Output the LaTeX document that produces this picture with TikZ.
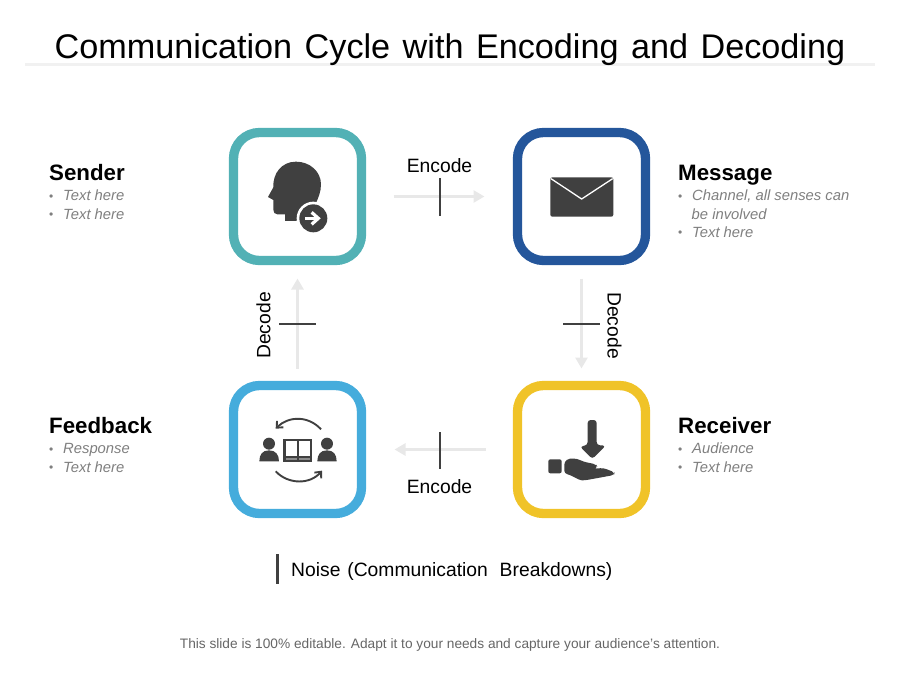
\documentclass[tikz,border=0pt]{standalone}
\usepackage{fontspec}
\setmainfont{Liberation Sans}
\usetikzlibrary{arrows.meta}
\definecolor{iconc}{HTML}{404040}
\definecolor{cteal}{HTML}{52B1B5}
\definecolor{cblue}{HTML}{24569B}
\definecolor{csky}{HTML}{45ACDC}
\definecolor{cyel}{HTML}{F0C328}
\definecolor{flowc}{HTML}{E8E8E8}
\definecolor{subc}{HTML}{7F7F7F}
\tikzset{
  box/.style={draw,fill=white,line width=9.3pt,rounded corners=26pt,minimum size=128pt,inner sep=0pt,outer sep=0pt},
  flow/.style={draw=flowc,line width=3.4pt,-{Triangle[length=11pt,width=12pt]}},
  tick/.style={draw=iconc,line width=2.6pt},
  head/.style={anchor=base west,inner sep=0pt,font=\fontsize{22.3}{25}\selectfont\bfseries},
  sub/.style={anchor=base west,inner sep=0pt,text=subc,font=\fontsize{14.8}{17}\selectfont\itshape},
  dot/.style={anchor=base west,inner sep=0pt,text=subc,font=\fontsize{12}{14}\selectfont},
  lab/.style={inner sep=0pt,font=\fontsize{19.3}{22}\selectfont},
  zoomA/.style={x=0.3333pt,y=-0.3333pt}
}
\begin{document}
\begin{tikzpicture}[x=1pt,y=-1pt]
\useasboundingbox (0,0) rectangle (900,675);
% title
\coordinate (ruleL) at (25,64.5); \coordinate (ruleR) at (875,64.5);
\draw[draw=flowc!60,line width=2.5pt] (ruleL) -- (ruleR);
\node[anchor=base,inner sep=0pt,font=\fontsize{34.2}{40}\selectfont] (title) at (450,58) {Communication\hspace{3pt} Cycle\hspace{3pt} with\hspace{3pt} Encoding\hspace{3pt} and\hspace{3pt} Decoding};
% boxes
\node[box,draw=cteal] (sender) at (297.5,196.5) {};
\node[box,draw=cblue] (message) at (581.5,196.5) {};
\node[box,draw=csky] (feedback) at (297.5,449.5) {};
\node[box,draw=cyel] (receiver) at (581.5,449.5) {};
% flows
\draw[flow,shorten <=32pt,shorten >=33pt] (sender.east) -- (message.west);
\draw[flow,shorten <=18pt,shorten >=17pt] (message.south) -- (receiver.north);
\draw[flow,shorten <=32pt,shorten >=33pt] (receiver.west) -- (feedback.east);
\draw[flow,shorten <=17pt,shorten >=18pt] (feedback.north) -- (sender.south);
% ticks
\coordinate (t1a) at (440,178); \coordinate (t1b) at (440,216);
\coordinate (t2a) at (563,324); \coordinate (t2b) at (600,324);
\coordinate (t3a) at (440,432); \coordinate (t3b) at (440,469);
\coordinate (t4a) at (279,324); \coordinate (t4b) at (316,324);
\draw[tick] (t1a) -- (t1b);
\draw[tick] (t2a) -- (t2b);
\draw[tick] (t3a) -- (t3b);
\draw[tick] (t4a) -- (t4b);
% labels
\node[lab] (enc1) at (439.5,166) {Encode};
\node[lab] (enc2) at (439.5,487) {Encode};
\node[lab,rotate=90] (dec1) at (263.5,325.5) {Decode};
\node[lab,rotate=-90] (dec2) at (614.5,325.5) {Decode};
% side texts
\node[head] (h1) at (49,180.5) {Sender};
\node[dot] (d11) at (49,200) {•}; \node[sub] (s11) at (63,200.5) {Text here};
\node[dot] (d12) at (49,218.5) {•}; \node[sub] (s12) at (63,219) {Text here};
\node[head] (h2) at (678,180.5) {Message};
\node[dot] (d21) at (678,200) {•}; \node[sub] (s21) at (692,200.5) {Channel, all senses can};
\node[sub] (s22) at (691.5,219) {be involved};
\node[dot] (d23) at (678,236.5) {•}; \node[sub] (s23) at (692,237) {Text here};
\node[head] (h3) at (49,433.5) {Feedback};
\node[dot] (d31) at (49,453) {•}; \node[sub] (s31) at (63,453.5) {Response};
\node[dot] (d32) at (49,471.5) {•}; \node[sub] (s32) at (63,472) {Text here};
\node[head] (h4) at (678,433.5) {Receiver};
\node[dot] (d41) at (678,453) {•}; \node[sub] (s41) at (692,453.5) {Audience};
\node[dot] (d42) at (678,471.5) {•}; \node[sub] (s42) at (692,472) {Text here};
% noise
\coordinate (na) at (277.5,554); \coordinate (nb) at (277.5,584);
\draw[tick] (na) -- (nb);
\node[anchor=base west,inner sep=0pt,font=\fontsize{19.3}{22}\selectfont] (noise) at (291,576) {Noise\hspace{1.5pt} (Communication\hspace{6.5pt} Breakdowns)};
\node[anchor=base,inner sep=0pt,text=black!60,font=\fontsize{13.7}{17}\selectfont] (foot) at (450,648) {This slide is 100\% editable. Adapt it to your needs and capture your audience's attention.};
% icon: head
\begin{scope}[shift={(260,155)},zoomA]
\fill[iconc] (75,198) -- (75,178) -- (52,178) .. controls (44,178) and (40,172) .. (40,164) -- (40,135) -- (24,126) -- (40,97)
  .. controls (38,55) and (65,20) .. (108,20) .. controls (150,20) and (183,50) .. (183,88)
  .. controls (183,110) and (175,130) .. (165,150) -- (108,198) -- cycle;
\fill[white] (160,190) circle (50);
\fill[iconc] (160,190) circle (42);
\draw[white,line width=3.2pt] (135,190) -- (170,190);
\draw[white,line width=3.2pt,line join=miter] (155,172) -- (175,190) -- (155,208);
\end{scope}
% icon: envelope
\begin{scope}[shift={(505,120)},zoomA]
\fill[iconc,rounded corners=2pt] (136,172) rectangle (325,290);
\draw[white,line width=1.3pt,line join=round] (138,176) -- (230,237) -- (323,176);
\end{scope}
% icon: people and book
\begin{scope}[shift={(255,412)},zoomA]
\draw[iconc,line width=1.9pt,-{Straight Barb[length=5pt,width=9pt]}] (198,52) .. controls (160,10) and (100,12) .. (62,50);
\draw[iconc,line width=1.9pt,-{Straight Barb[length=5pt,width=9pt]}] (62,178) .. controls (100,218) and (165,218) .. (201,176);
\fill[iconc] (42,95) circle (18);
\fill[iconc] (13,148) .. controls (13,128) and (22,115) .. (42,115) .. controls (62,115) and (72,128) .. (72,148) -- cycle;
\fill[iconc] (216,95) circle (18);
\fill[iconc] (187,148) .. controls (187,128) and (196,115) .. (216,115) .. controls (236,115) and (245,128) .. (245,148) -- cycle;
\fill[iconc] (85,80) rectangle (172,150);
\fill[white] (92,87) rectangle (125,132);
\fill[white] (132,87) rectangle (165,132);
\fill[black!45] (92,137) rectangle (125,143);
\fill[black!45] (132,137) rectangle (165,143);
\end{scope}
% icon: hand and arrow
\begin{scope}[shift={(540,415)},zoomA]
\fill[iconc,rounded corners=3pt] (143,15) -- (170,15) -- (170,90) -- (197,92) -- (157,132) -- (120,95) -- (143,90) -- cycle;
\fill[iconc,rounded corners=2pt] (25,133) rectangle (65,175);
\fill[iconc,rounded corners=3pt] (73,140) .. controls (90,128) and (110,130) .. (130,140) -- (168,148) -- (173,157) -- (162,162) -- (122,164)
  -- (190,159) -- (224,172) -- (222,180) -- (190,186) -- (135,196) .. controls (115,196) and (95,180) .. (73,176) -- cycle;
\end{scope}
\end{tikzpicture}
\end{document}
